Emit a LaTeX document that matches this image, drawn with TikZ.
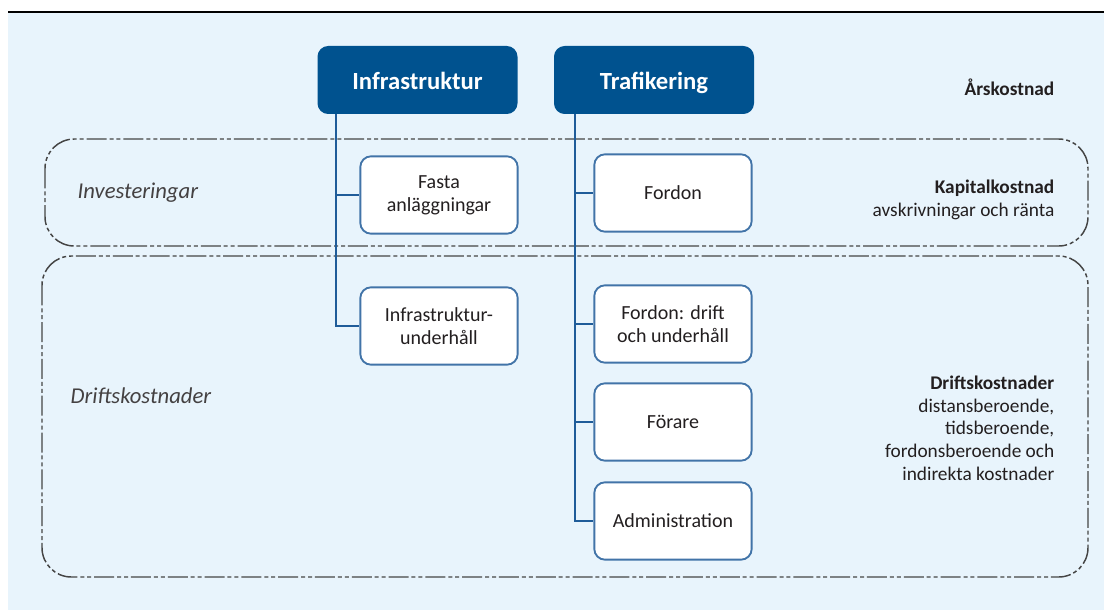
\documentclass[tikz,border=0pt]{standalone}
\usepackage{fontspec}
\setmainfont{Carlito}
\usetikzlibrary{positioning}
\definecolor{bgblue}{HTML}{E8F4FC}
\definecolor{headblue}{HTML}{00528F}
\definecolor{lineblue}{HTML}{1F5C99}
\definecolor{edgeblue}{HTML}{4274A8}
\definecolor{dashgray}{HTML}{454545}
\definecolor{txt}{HTML}{231F20}
\tikzset{
  head/.style={fill=headblue, rounded corners=8pt, minimum width=150pt, minimum height=51pt,
    text=white, text height=3ex, text depth=0ex, font=\fontsize{18.5}{22}\selectfont\bfseries},
  costbox/.style={draw=edgeblue, line width=1.4pt, fill=white, rounded corners=8pt,
    minimum width=118pt, minimum height=58pt, align=center, text=txt,
    font=\fontsize{15}{17}\selectfont},
  branch/.style={draw=lineblue, line width=2.2pt},
  zone/.style={draw=dashgray, line width=1.1pt, rounded corners=22pt,
    dash pattern=on 15pt off 2.2pt on 3pt off 2.2pt on 3pt off 2.2pt},
  sidetext/.style={align=right, anchor=east, text=txt, font=\fontsize{14.5}{17}\selectfont},
  zonetext/.style={anchor=west, text=txt!85, font=\fontsize{17}{20}\selectfont\itshape}
}
\begin{document}
\begin{tikzpicture}[x=0.75pt, y=-0.75pt]
  \useasboundingbox (0,0) rectangle (1104,610);
  \fill[bgblue] (8,13) rectangle (1104,610);
  \draw[black, line width=1.5pt] (8,12.5) -- (1104,12.5);

  % cost zones
  \draw[zone] (45,139) rectangle (1088,246);
  \draw[zone] (42,256) rectangle (1088,577);
  \node[zonetext] (inv) at (73,193) {Investeringar};
  \node[zonetext] (drift) at (66,396) {Driftskostnader};

  % headings
  \node[head] (infra) at (417.5,80) {Infrastruktur};
  \node[head] (traf) at (654,80) {Trafikering};

  % cost items
  \node[costbox] (fasta) at (439,195) {Fasta\\anläggningar};
  \node[costbox] (iunder) at (439,326) {Infrastruktur-\\underhåll};
  \node[costbox] (fordon) at (673,193) {Fordon};
  \node[costbox] (fdrift) at (673,324) {Fordon: drift\\och underhåll};
  \node[costbox] (forare) at (673,422) {Förare};
  \node[costbox] (admin) at (673,521) {Administration};

  % tree lines
  \coordinate (ia) at (336,114);
  \coordinate (ta) at (575,114);
  \draw[branch] (ia) |- (iunder.west);
  \draw[branch] (ia |- fasta.west) -- (fasta.west);
  \draw[branch] (ta) |- (admin.west);
  \draw[branch] (ta |- fordon.west) -- (fordon.west);
  \draw[branch] (ta |- fdrift.west) -- (fdrift.west);
  \draw[branch] (ta |- forare.west) -- (forare.west);

  % right column
  \node[sidetext, font=\fontsize{14.5}{17}\selectfont\bfseries] (ars) at (1059,87) {Årskostnad};
  \node[sidetext] (kap) at (1059,200) {\textbf{Kapitalkostnad}\\avskrivningar och ränta};
  \node[sidetext] (drk) at (1059,428) {\textbf{Driftskostnader}\\distansberoende,\\tidsberoende,\\fordonsberoende och\\indirekta kostnader};
\end{tikzpicture}
\end{document}
